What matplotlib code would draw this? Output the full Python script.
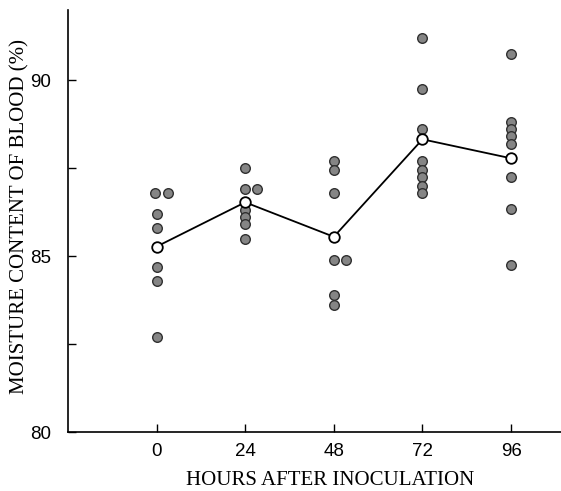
import matplotlib
matplotlib.use("Agg")
import matplotlib.pyplot as plt

# hours after inoculation
hours = [0, 24, 48, 72, 96]

# individual readings (%)
moist_0 = [86.8, 86.8, 86.2, 85.8, 84.7, 84.3, 82.7]
moist_24 = [87.5, 86.9, 86.9, 86.3, 86.1, 85.9, 85.5]
moist_48 = [87.7, 87.45, 86.8, 84.9, 84.9, 83.9, 83.6]
moist_72 = [91.2, 89.75, 88.6, 87.7, 87.45, 87.25, 87.0, 86.8]
moist_96 = [90.75, 88.8, 88.6, 88.4, 88.2, 87.25, 86.35, 84.75]

# horizontal nudge (hours) for dots that sit side by side
nudge_0 = [-0.5, 3.0, 0, 0, 0, 0, 0]
nudge_24 = [0, 0, 3.2, 0, 0, 0, 0]
nudge_48 = [0, 0, 0, 0, 3.2, 0, 0]
nudge_72 = [0, 0, 0, 0, 0, 0, 0, 0]
nudge_96 = [0, 0, 0, 0, 0, 0, 0, 0]

# group means (open circles)
mean_moist = [85.27, 86.53, 85.55, 88.32, 87.78]

groups = [moist_0, moist_24, moist_48, moist_72, moist_96]
nudges = [nudge_0, nudge_24, nudge_48, nudge_72, nudge_96]

fig = plt.figure(figsize=(5.61, 4.91), dpi=100)
ax = fig.add_axes([0.121, 0.12, 0.879, 0.86])

for h, vals, dx in zip(hours, groups, nudges):
    xs = [h + d for d in dx]
    ax.scatter(xs, vals, s=48, facecolor="#858585", edgecolor="#303030",
               linewidth=1.0, zorder=2)

ax.plot(hours, mean_moist, color="black", lw=1.3, zorder=3)
ax.scatter(hours, mean_moist, s=58, facecolor="white", edgecolor="black",
           linewidth=1.3, zorder=4)

ax.set_xlim(-24, 109.5)
ax.set_ylim(80, 92)
ax.set_xticks(hours)
ax.set_yticks([80, 85, 90])
ax.set_yticks([82.5, 87.5], minor=True)

ax.spines["top"].set_visible(False)
ax.spines["right"].set_visible(False)
ax.spines["left"].set_linewidth(1.2)
ax.spines["bottom"].set_linewidth(1.2)

ax.tick_params(axis="both", which="both", direction="in", length=6,
               width=1.0, labelsize=13.5)
ax.tick_params(axis="y", pad=12)
ax.tick_params(axis="x", pad=8)
for lab in ax.get_xticklabels() + ax.get_yticklabels():
    lab.set_family("Liberation Sans")

ax.set_xlabel("HOURS AFTER INOCULATION", family="Liberation Serif",
              fontsize=15, va="center")
ax.set_ylabel("MOISTURE CONTENT OF BLOOD (%)", family="Liberation Serif",
              fontsize=15, va="center")
ax.xaxis.set_label_coords(0.532, -0.114)
ax.yaxis.set_label_coords(-0.097, 0.51)

fig.savefig("out.png", dpi=100)
